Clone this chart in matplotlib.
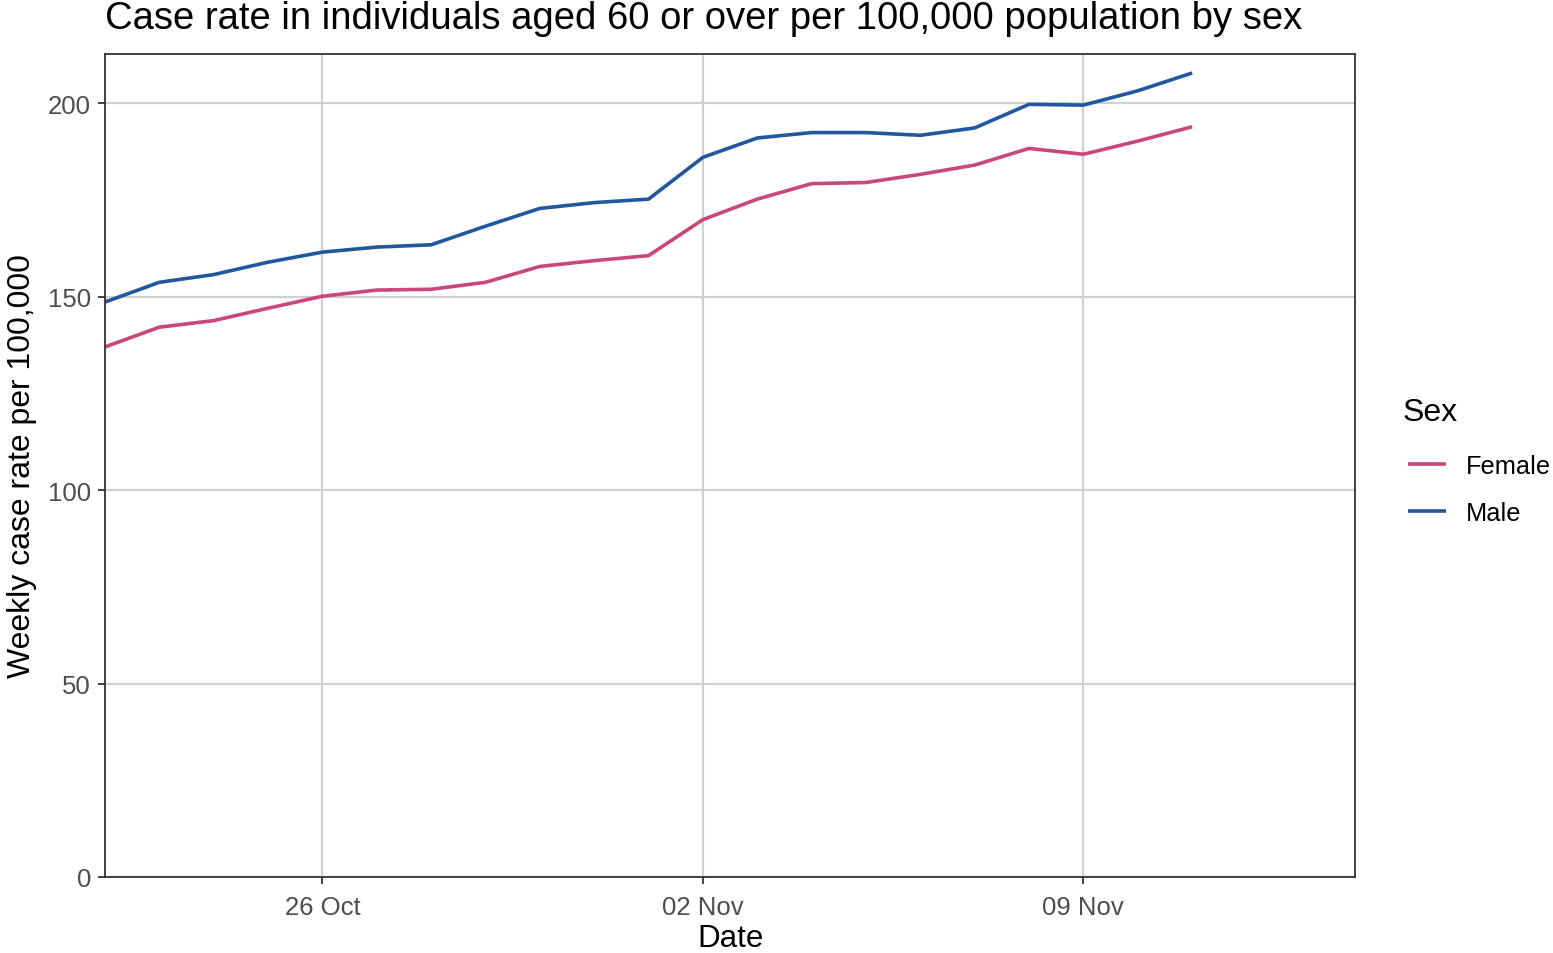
import pandas as pd
import matplotlib
matplotlib.use('Agg')
from matplotlib import pyplot as plt
import matplotlib.dates as mdates

# Weekly case rate per 100,000, aged 60+, one value per day
dates = pd.date_range('2020-10-22', '2020-11-11', freq='D')
female = [137.0, 142.1, 143.8, 147.0, 150.1, 151.7, 151.9, 153.7, 157.8, 159.3, 160.6,
          169.9, 175.2, 179.2, 179.5, 181.6, 184.0, 188.3, 186.8, 190.2, 193.9]
male = [148.6, 153.7, 155.7, 158.9, 161.5, 162.8, 163.4, 168.2, 172.8, 174.3, 175.2,
        186.0, 191.0, 192.4, 192.4, 191.7, 193.6, 199.7, 199.5, 203.2, 207.8]
series = {'Female': female, 'Male': male}
colours = {'Female': '#C9477A', 'Male': '#22579F'}

tick_dates = pd.to_datetime(['2020-10-26', '2020-11-02', '2020-11-09'])
y_ticks = [0, 50, 100, 150, 200]

plt.rcParams['font.family'] = ['Liberation Sans', 'DejaVu Sans']

fig = plt.figure(figsize=(15.53, 9.54), dpi=100)
ax = fig.add_axes([0.0676, 0.0797, 0.805, 0.8626])

for name, vals in series.items():
    ax.plot(dates, vals, color=colours[name], lw=2.6, label=name, solid_capstyle='butt')

ax.set_xlim(pd.Timestamp('2020-10-22'), pd.Timestamp('2020-11-14'))
ax.set_ylim(0, 212.7)
ax.set_xticks(tick_dates)
ax.xaxis.set_major_formatter(mdates.DateFormatter('%d %b'))
ax.set_yticks(y_ticks)

ax.grid(True, color='#D0D0D0', lw=1.6)
ax.set_axisbelow(True)
for sp in ax.spines.values():
    sp.set_color('#333333')
    sp.set_linewidth(1.3)
ax.tick_params(colors='#333333', labelcolor='#4D4D4D', labelsize=18.5, length=5, width=1.3)
ax.tick_params(axis='x', pad=8)
ax.tick_params(axis='y', pad=5)

ax.set_xlabel('Date', fontsize=22.5, labelpad=3)
ax.set_ylabel('Weekly case rate per 100,000', fontsize=23, labelpad=8)
fig.text(0.0676, 1 - 29 / 954, 'Case rate in individuals aged 60 or over per 100,000 population by sex',
         fontsize=27.5, ha='left', va='baseline')

# legend: title drawn separately so spacing matches
fig.text(1403 / 1553, 1 - 413 / 954, 'Sex', fontsize=23, ha='left', va='center')
ax.legend(loc='upper left', bbox_to_anchor=(1408 / 1553, 1 - 455 / 954),
          bbox_transform=fig.transFigure, frameon=False, fontsize=18.3,
          handlelength=1.5, handletextpad=0.78, labelspacing=0.9, borderpad=0,
          borderaxespad=0)

plt.savefig('out.png', dpi=100)
